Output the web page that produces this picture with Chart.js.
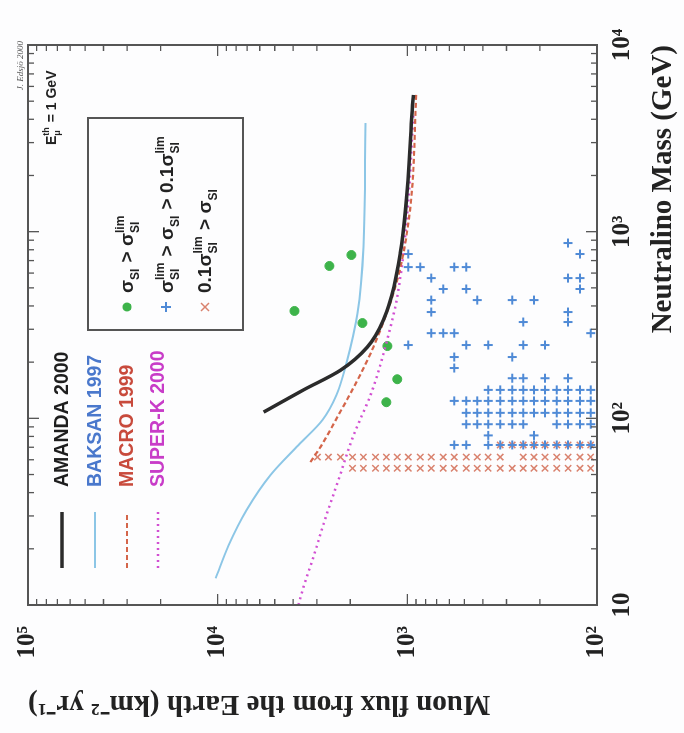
<!DOCTYPE html>
<html>
<head>
<meta charset="utf-8">
<script src="https://cdn.jsdelivr.net/npm/chart.js@4.4.0/dist/chart.umd.min.js"></script>
<style>
html, body { margin:0; padding:0; background:#fdfdfe; overflow:hidden; }
/* the figure is drawn upright and turned a quarter turn, like the scan */
#wrap { position:absolute; left:0; top:0; width:733px; height:684px;
        transform-origin:0 0; transform:translate(0, 733px) rotate(-90deg); }
</style>
</head>
<body>
<div id="wrap"><canvas id="ChartCanvas" width="733" height="684"></canvas></div>
<script>
// axes
const massDecades = [10, 100, 1000, 10000]
const fluxDecades = [100, 1000, 10000, 100000]
const minorSteps = [2, 3, 4, 5, 6, 7, 8, 9]
const massTickLabels = ['10', '10²', '10³', '10⁴']
const fluxTickLabels = ['10²', '10³', '10⁴', '10⁵']

// limit curves: neutralino mass (GeV) -> muon flux (km^-2 yr^-1)
const amandaMass = [108, 142, 181, 241, 336, 767, 5400]
const amandaFlux = [5730, 3526, 2253, 1625, 1337, 1089, 929]
const baksanMass = [13.9, 20.9, 32.3, 49.7, 71.9, 98, 133, 198, 366, 828, 3820]
const baksanFlux = [10250, 8750, 7030, 5260, 3750, 2800, 2365, 2094, 1833, 1705, 1663]
const macroMass = [58.3, 70.2, 102, 160, 241, 551, 1355, 5520]
const macroFlux = [3243, 2870, 2333, 1833, 1510, 1130, 964, 897]
const superkMass = [10, 12.5, 18.1, 29.2, 46.8, 78.3, 142, 308, 447, 1259, 4315]
const superkFlux = [3750, 3526, 3126, 2702, 2307, 1946, 1528, 1228, 1130, 1000, 929]

// models, sigma_SI > sigma_SI^lim
const greenMass = [750, 655, 376, 324, 244, 162, 122]
const greenFlux = [1972, 2576, 3936, 1725, 1274, 1130, 1290]

// models, sigma^lim > sigma > 0.1 sigma^lim (one row per mass)
const blueRowMass = [869, 759, 646, 564, 493, 430, 371, 328, 286, 247, 213, 186, 164, 142, 124, 107, 93, 81, 72]
const blueRowFlux = [
  [142],
  [123, 988],
  [988, 855, 566, 489],
  [748, 142, 123],
  [647, 489, 123],
  [748, 428, 280, 215],
  [748, 142],
  [245, 142],
  [748, 647, 566, 108],
  [988, 489, 375, 245, 188],
  [566, 280],
  [566],
  [280, 245, 188, 142],
  [375, 324, 280, 245, 215, 188, 163, 142, 123, 108],
  [566, 489, 428, 375, 324, 280, 245, 215, 188, 163, 142, 123, 108],
  [489, 428, 375, 324, 280, 245, 215, 188, 163, 142, 123, 108],
  [489, 428, 375, 324, 280, 245, 163, 142, 123, 108],
  [375, 215],
  [566, 489, 375, 324, 280, 245, 215, 188, 163, 142, 123, 108]
]

// models, 0.1 sigma^lim > sigma
const redRowMass = [72, 62, 54]
const redRowFlux = [
  [324, 280, 245, 215, 188, 163, 142, 123, 108],
  [2979, 2606, 2253, 1946, 1705, 1472, 1290, 1130, 988, 855, 748, 647, 566, 489, 428, 375, 324, 245, 215, 188, 163, 142, 123, 108],
  [1946, 1705, 1472, 1290, 1130, 988, 855, 748, 647, 566, 489, 428, 375, 324, 280, 245, 215, 188, 163, 142, 123, 108]
]

const curveNames = ['AMANDA 2000', 'BAKSAN 1997', 'MACRO 1999', 'SUPER-K 2000']
const curveColors = ['#2b2b2b', '#8cc6e6', '#d4654a', '#d24fd2']
const curveTextColors = ['#1e1e1e', '#4a78cc', '#c84a3c', '#c83cc8']
const curveDash = [[], [], [5, 3], [2, 4]]
const curveWidth = [3.5, 2, 2.2, 2.5]

const SERIF = '"Liberation Serif", "Times New Roman", serif'
const SANS = '"Liberation Sans", Arial, sans-serif'

function pairs(xs, ys) {
  return xs.map((x, i) => ({x: x, y: ys[i]}))
}
function rows(masses, fluxRows) {
  const out = []
  masses.forEach((m, i) => fluxRows[i].forEach(f => out.push({x: m, y: f})))
  return out
}
function buildTicks(decades) {
  const t = []
  for (let i = 0; i < decades.length - 1; i++) {
    t.push({value: decades[i]})
    minorSteps.forEach(s => t.push({value: decades[i] * s}))
  }
  t.push({value: decades[decades.length - 1]})
  return t
}

// text with subscripts / superscripts: parts = [text, sub, sup]
function richText(ctx, x, y, parts, size, color) {
  ctx.save()
  ctx.fillStyle = color
  ctx.textAlign = 'left'
  ctx.textBaseline = 'alphabetic'
  let cx = x
  for (const p of parts) {
    ctx.font = `bold ${size}px ${SANS}`
    ctx.fillText(p[0], cx, y)
    cx += ctx.measureText(p[0]).width
    ctx.font = `bold ${Math.round(size * 0.62)}px ${SANS}`
    let w = 0
    if (p[1]) { ctx.fillText(p[1], cx, y + size * 0.3); w = ctx.measureText(p[1]).width }
    if (p[2]) { ctx.fillText(p[2], cx, y - size * 0.48); w = Math.max(w, ctx.measureText(p[2]).width) }
    cx += w ? w + 1 : 0
  }
  ctx.restore()
}

const decorPlugin = {
  id: 'decor',
  afterDatasetsDraw(chart) {
    const ctx = chart.ctx
    const a = chart.chartArea
    const xs = chart.scales.x, ys = chart.scales.y
    ctx.save()
    // frame with inside ticks on all four sides
    ctx.strokeStyle = '#555'
    ctx.lineWidth = 2
    ctx.strokeRect(a.left, a.top, a.right - a.left, a.bottom - a.top)
    ctx.lineWidth = 1.3
    ctx.beginPath()
    xs.ticks.forEach(t => {
      const p = xs.getPixelForValue(t.value)
      const len = massDecades.includes(t.value) ? 11 : 6
      ctx.moveTo(p, a.bottom); ctx.lineTo(p, a.bottom - len)
      ctx.moveTo(p, a.top); ctx.lineTo(p, a.top + len)
    })
    ys.ticks.forEach(t => {
      const p = ys.getPixelForValue(t.value)
      const len = fluxDecades.includes(t.value) ? 11 : 6
      ctx.moveTo(a.left, p); ctx.lineTo(a.left + len, p)
      ctx.moveTo(a.right, p); ctx.lineTo(a.right - len, p)
    })
    ctx.stroke()

    // legend of the limit curves
    const rowsY = [62, 95, 127, 158]
    curveNames.forEach((name, i) => {
      ctx.save()
      ctx.strokeStyle = curveColors[i]
      ctx.lineWidth = curveWidth[i]
      ctx.setLineDash(curveDash[i])
      ctx.beginPath()
      ctx.moveTo(165, rowsY[i]); ctx.lineTo(221, rowsY[i])
      ctx.stroke()
      ctx.restore()
      ctx.fillStyle = curveTextColors[i]
      ctx.font = `bold 19.5px ${SANS}`
      ctx.textBaseline = 'middle'
      ctx.textAlign = 'left'
      ctx.fillText(name, 246, rowsY[i] + 1)
    })

    // legend of the model classes
    ctx.strokeStyle = '#555'
    ctx.lineWidth = 2
    ctx.strokeRect(403, 88, 212, 155)
    const mx = 426
    ctx.fillStyle = '#3db34a'
    ctx.beginPath(); ctx.arc(mx, 127, 4.5, 0, Math.PI * 2); ctx.fill()
    ctx.strokeStyle = '#4f8ad6'; ctx.lineWidth = 2
    ctx.beginPath()
    ctx.moveTo(mx - 5, 166); ctx.lineTo(mx + 5, 166)
    ctx.moveTo(mx, 161); ctx.lineTo(mx, 171)
    ctx.stroke()
    ctx.strokeStyle = '#d9826e'; ctx.lineWidth = 1.5
    ctx.beginPath()
    ctx.moveTo(mx - 4, 201); ctx.lineTo(mx + 4, 209)
    ctx.moveTo(mx - 4, 209); ctx.lineTo(mx + 4, 201)
    ctx.stroke()
    richText(ctx, 440, 133, [['σ', 'SI'], [' > σ', 'SI', 'lim']], 19, '#222')
    richText(ctx, 440, 173, [['σ', 'SI', 'lim'], [' > σ', 'SI'], [' > 0.1σ', 'SI', 'lim']], 19, '#222')
    richText(ctx, 440, 211, [['0.1σ', 'SI', 'lim'], [' > σ', 'SI']], 19, '#222')

    // threshold note and credit
    richText(ctx, 588, 56, [['E', 'μ', 'th'], [' = 1 GeV']], 14, '#222')
    ctx.fillStyle = '#555'
    ctx.font = `italic 9px ${SERIF}`
    ctx.textAlign = 'right'
    ctx.textBaseline = 'alphabetic'
    ctx.fillText('J. Edsjö 2000', 692, 23)
    ctx.restore()
  }
}

function curve(i, xs, ys) {
  return {
    label: curveNames[i],
    data: pairs(xs, ys),
    showLine: true,
    borderColor: curveColors[i],
    borderWidth: curveWidth[i],
    borderDash: curveDash[i],
    pointRadius: 0,
    cubicInterpolationMode: 'monotone',
    fill: false
  }
}

function initChart() {
  const ctx = document.getElementById('ChartCanvas').getContext('2d')
  const tickFont = {family: SERIF, size: 25, weight: 'bold'}
  const titleFont = {family: SERIF, size: 29, weight: 'bold'}
  new Chart(ctx, {
    type: 'scatter',
    data: {
      datasets: [
        curve(0, amandaMass, amandaFlux),
        curve(2, macroMass, macroFlux),
        curve(3, superkMass, superkFlux),
        curve(1, baksanMass, baksanFlux),
        {
          label: 'sigma > lim',
          data: pairs(greenMass, greenFlux),
          pointStyle: 'circle', pointRadius: 4.5,
          backgroundColor: '#3db34a', borderColor: '#3db34a', borderWidth: 1
        },
        {
          label: 'lim > sigma > 0.1 lim',
          data: rows(blueRowMass, blueRowFlux),
          pointStyle: 'cross', pointRadius: 4.5,
          borderColor: '#4f8ad6', borderWidth: 2
        },
        {
          label: '0.1 lim > sigma',
          data: rows(redRowMass, redRowFlux),
          pointStyle: 'crossRot', pointRadius: 4.5,
          borderColor: '#d9826e', borderWidth: 1.5
        }
      ]
    },
    options: {
      responsive: false,
      animation: false,
      layout: {padding: {left: 0, top: 27, right: 45, bottom: 0}},
      plugins: {legend: {display: false}, tooltip: {enabled: false}},
      scales: {
        x: {
          type: 'logarithmic',
          position: 'bottom',
          min: 10, max: 10000,
          grid: {display: false},
          border: {display: false},
          afterBuildTicks: s => { s.ticks = buildTicks(massDecades) },
          afterFit: s => { s.height = 87 },
          ticks: {
            autoSkip: false, maxRotation: 0, minRotation: 0, padding: 3,
            color: '#222', font: tickFont,
            callback: v => { const i = massDecades.indexOf(v); return i >= 0 ? massTickLabels[i] : '' }
          },
          title: {display: true, text: 'Neutralino Mass (GeV)', align: 'end', color: '#222',
                  font: titleFont, padding: {top: 0, bottom: 3}}
        },
        y: {
          type: 'logarithmic',
          position: 'left',
          min: 100, max: 100000,
          grid: {display: false},
          border: {display: false},
          afterBuildTicks: s => { s.ticks = buildTicks(fluxDecades) },
          afterFit: s => { s.width = 128 },
          ticks: {
            autoSkip: false, padding: 13,
            color: '#222', font: tickFont,
            callback: v => { const i = fluxDecades.indexOf(v); return i >= 0 ? fluxTickLabels[i] : '' }
          },
          title: {display: true, text: 'Muon flux from the Earth (km⁻² yr⁻¹)', align: 'end', color: '#222',
                  font: titleFont, padding: {top: 12, bottom: 0}}
        }
      }
    },
    plugins: [decorPlugin]
  })
}

initChart()
</script>
</body>
</html>
